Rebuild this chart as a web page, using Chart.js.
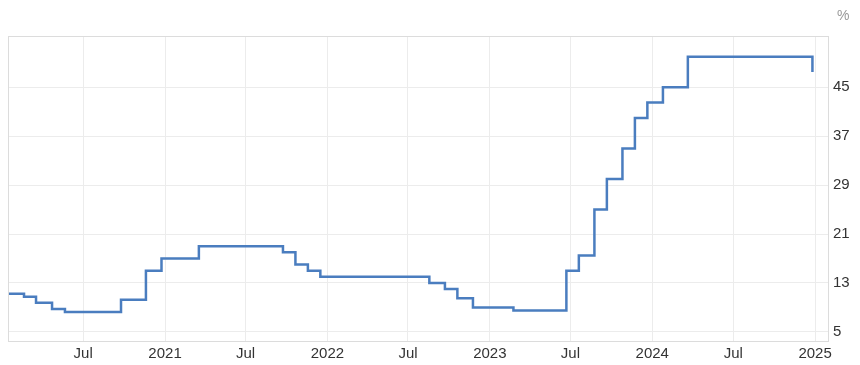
<!DOCTYPE html>
<html>
<head>
<meta charset="utf-8">
<script src="https://cdn.jsdelivr.net/npm/chart.js@4"></script>
<style>
  html, body { margin: 0; padding: 0; background: #fff; }
  #wrap { width: 860px; height: 365px; }
</style>
</head>
<body>
<div id="wrap"><canvas id="rateChart" width="860" height="365"></canvas></div>
<script>
// policy rate decisions (date of change, new rate in %)
const dates = [
  "2020-01-16", "2020-02-19", "2020-03-17", "2020-04-22", "2020-05-21",
  "2020-09-24", "2020-11-19", "2020-12-24", "2021-03-18", "2021-09-23",
  "2021-10-21", "2021-11-18", "2021-12-16", "2022-08-18", "2022-09-22",
  "2022-10-20", "2022-11-24", "2023-02-23", "2023-06-22", "2023-07-20",
  "2023-08-24", "2023-09-21", "2023-10-26", "2023-11-23", "2023-12-21",
  "2024-01-25", "2024-03-21", "2024-12-26"
];
const rates = [
  11.25, 10.75, 9.75, 8.75, 8.25,
  10.25, 15, 17, 19, 18,
  16, 15, 14, 13, 12,
  10.5, 9, 8.5, 15, 17.5,
  25, 30, 35, 40, 42.5,
  45, 50, 47.5
];
const xTickDates = ["2020-07-01", "2021-01-01", "2021-07-01", "2022-01-01", "2022-07-01",
  "2023-01-01", "2023-07-01", "2024-01-01", "2024-07-01", "2025-01-01"];
const xTickLabels = ["Jul", "2021", "Jul", "2022", "Jul", "2023", "Jul", "2024", "Jul", "2025"];
const yTicks = [5, 13, 21, 29, 37, 45];

const toMs = s => Date.parse(s + "T00:00:00Z");
const points = dates.map((d, i) => ({ x: toMs(d), y: rates[i] }));
const xTickMs = xTickDates.map(toMs);
const fontFamily = "'Liberation Sans', Arial, sans-serif";

const frame = {
  id: "frame",
  afterDraw(chart) {
    const { ctx, chartArea: a } = chart;
    ctx.save();
    ctx.strokeStyle = "#dcdcdc";
    ctx.lineWidth = 1;
    ctx.strokeRect(a.left + 0.5, a.top + 0.5, a.right - a.left, a.bottom - a.top);
    ctx.fillStyle = "#999";
    ctx.font = "14px " + fontFamily;
    ctx.textBaseline = "middle";
    ctx.fillText("%", 837, 16);
    ctx.restore();
  }
};

new Chart(document.getElementById("rateChart"), {
  type: "line",
  data: {
    datasets: [{
      data: points,
      stepped: true,
      borderColor: "#4a7dbf",
      borderWidth: 2.5,
      pointRadius: 0,
      fill: false
    }]
  },
  options: {
    responsive: false,
    animation: false,
    layout: { padding: { top: 36, left: 8, right: 0, bottom: 0 } },
    plugins: { legend: { display: false }, tooltip: { enabled: false } },
    scales: {
      x: {
        type: "linear",
        min: toMs("2020-01-14"),
        max: toMs("2025-01-30"),
        afterBuildTicks: axis => { axis.ticks = xTickMs.map(v => ({ value: v })); },
        afterFit: axis => { axis.height = 24; },
        grid: { color: "#ececec", drawTicks: false },
        border: { display: false },
        ticks: {
          padding: 4,
          color: "#333",
          font: { family: fontFamily, size: 15 },
          maxRotation: 0,
          autoSkip: false,
          callback: v => {
            const i = xTickMs.indexOf(v);
            return i >= 0 ? xTickLabels[i] : "";
          }
        }
      },
      y: {
        position: "right",
        min: 3.5,
        max: 53.4,
        afterBuildTicks: axis => { axis.ticks = yTicks.map(v => ({ value: v })); },
        afterFit: axis => { axis.width = 32; },
        grid: { color: "#ececec", drawTicks: false },
        border: { display: false },
        ticks: {
          padding: 5,
          color: "#333",
          font: { family: fontFamily, size: 15 }
        }
      }
    }
  },
  plugins: [frame]
});
</script>
</body>
</html>
